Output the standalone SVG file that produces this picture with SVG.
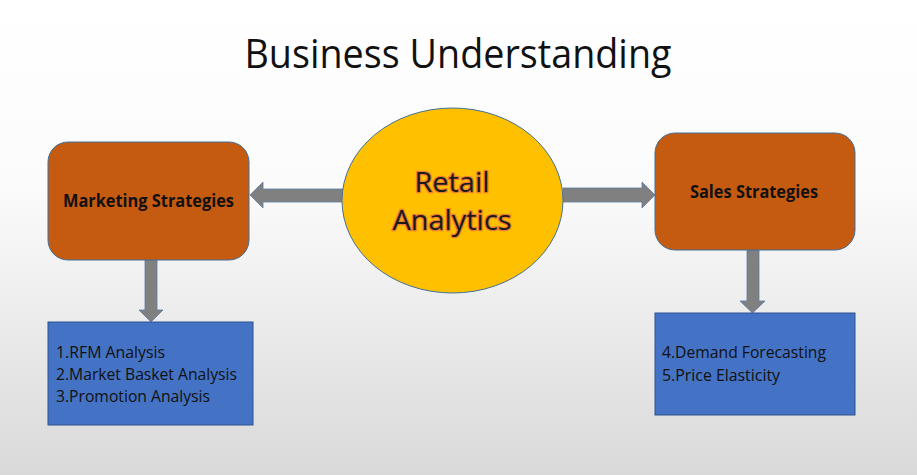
<svg xmlns="http://www.w3.org/2000/svg" width="917" height="475" viewBox="0 0 917 475">
<defs>
<linearGradient id="bg" x1="0" y1="0" x2="0" y2="1">
<stop offset="0" stop-color="#ffffff"/>
<stop offset="0.4" stop-color="#fbfbfb"/>
<stop offset="1" stop-color="#d9d9d9"/>
</linearGradient>
</defs>
<style>
.strat{fill:#C55A11;stroke:#41719C;stroke-width:1}
.list{fill:#4472C4;stroke:#2F528F;stroke-width:1}
.arrow{fill:#808080;stroke:#5A7CA8;stroke-width:0.8}
.t{font-family:"Open Sans","Liberation Sans",sans-serif;fill:#111}
.b{font-family:"Open Sans","Liberation Sans",sans-serif;font-weight:bold;fill:#111;font-size:17px}
.li{font-family:"Open Sans","Liberation Sans",sans-serif;fill:#111;font-size:16px}
.ra{font-family:"Open Sans","Liberation Sans",sans-serif;font-size:27px;fill:#1a1a1a;stroke:#ED7D31;stroke-width:2.5;paint-order:stroke;stroke-linejoin:round}
</style>
<rect x="0" y="0" width="917" height="475" fill="url(#bg)"/>
<text class="t" x="458" y="68" font-size="40" text-anchor="middle" textLength="427" lengthAdjust="spacingAndGlyphs">Business Understanding</text>
<g id="connectors">
<path class="arrow" d="M343,189 L263,189 L263,182 L250,195 L263,208 L263,202 L343,202 Z"/>
<path class="arrow" d="M563,188 L642,188 L642,182 L655,195 L642,208 L642,202 L563,202 Z"/>
<path class="arrow" d="M145,260 L145,310 L139,310 L151,322 L163,310 L157,310 L157,260 Z"/>
<path class="arrow" d="M747,250 L747,301 L740,301 L752.5,313 L765,301 L759,301 L759,250 Z"/>
</g>
<g id="retail">
<ellipse cx="452.5" cy="200.5" rx="110.5" ry="92.5" fill="#FFC000" stroke="#41719C" stroke-width="1"/>
<text class="ra" x="452" y="192" text-anchor="middle" textLength="75" lengthAdjust="spacingAndGlyphs">Retail</text>
<text class="ra" x="452" y="230" text-anchor="middle" textLength="119" lengthAdjust="spacingAndGlyphs">Analytics</text>
</g>
<g id="marketing">
<rect class="strat" x="48" y="142" width="201" height="118" rx="20"/>
<text class="b" x="148.5" y="207" text-anchor="middle" textLength="171" lengthAdjust="spacingAndGlyphs">Marketing Strategies</text>
</g>
<g id="sales">
<rect class="strat" x="655" y="133" width="200" height="117" rx="20"/>
<text class="b" x="754" y="198" text-anchor="middle" textLength="128" lengthAdjust="spacingAndGlyphs">Sales Strategies</text>
</g>
<g id="marketing-list">
<rect class="list" x="48" y="322" width="205" height="103"/>
<text class="li" x="56" y="358" textLength="109" lengthAdjust="spacingAndGlyphs">1.RFM Analysis</text>
<text class="li" x="56" y="380" textLength="181" lengthAdjust="spacingAndGlyphs">2.Market Basket Analysis</text>
<text class="li" x="56" y="402" textLength="154" lengthAdjust="spacingAndGlyphs">3.Promotion Analysis</text>
</g>
<g id="sales-list">
<rect class="list" x="655" y="313" width="200" height="102"/>
<text class="li" x="662" y="358" textLength="164" lengthAdjust="spacingAndGlyphs">4.Demand Forecasting</text>
<text class="li" x="662" y="381" textLength="118" lengthAdjust="spacingAndGlyphs">5.Price Elasticity</text>
</g>
</svg>
